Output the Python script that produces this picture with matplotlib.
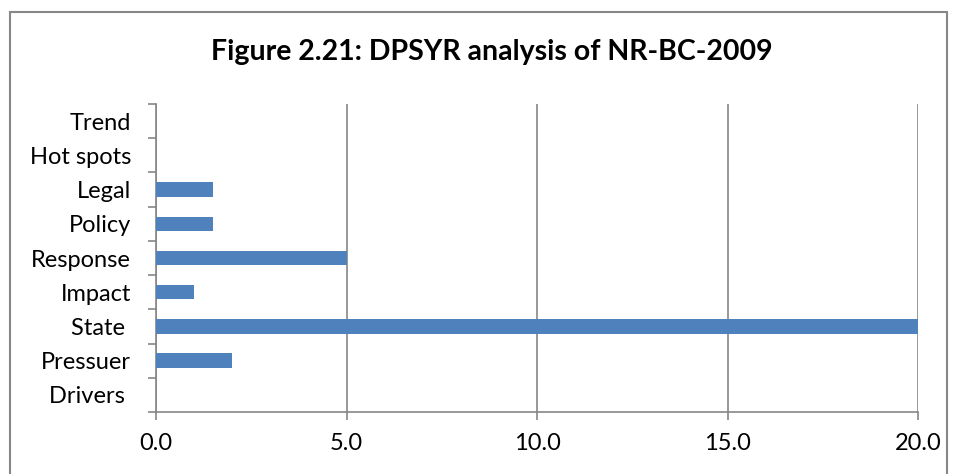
import matplotlib.pyplot as plt
from matplotlib.patches import Rectangle

categories = ['Drivers ', 'Pressuer', 'State ', 'Impact', 'Response',
              'Policy', 'Legal', 'Hot spots', 'Trend']
values = [0.0, 2.0, 20.0, 1.0, 5.0, 1.5, 1.5, 0.0, 0.0]
xticks = [0.0, 5.0, 10.0, 15.0, 20.0]

plt.rcParams['font.family'] = ['Lato', 'DejaVu Sans']

W, H = 957, 474
fig = plt.figure(figsize=(W / 100, H / 100), dpi=100)
fig.patch.set_facecolor('white')

# outer chart border (bottom edge runs off the image)
fig.patches.append(Rectangle((10 / W, -0.05), 937 / W, 1.05 - 12 / H,
                             transform=fig.transFigure, fill=False,
                             edgecolor='#878787', linewidth=1.5))

ax = fig.add_axes([156 / W, 1 - 412 / H, (918 - 156) / W, (412 - 104) / H])

pos = list(range(len(categories)))
ax.barh(pos, values, height=0.42, color='#4f81bd', zorder=3)

ax.set_xlim(0, 20)
ax.set_ylim(-0.5, len(categories) - 0.5)
ax.set_xticks(xticks)
ax.set_xticklabels([f'{v:.1f}' for v in xticks], fontsize=17)
ax.set_yticks(pos)
ax.set_yticklabels(categories, fontsize=17)
ax.set_yticks([p - 0.5 for p in pos] + [len(categories) - 0.5], minor=True)

ax.grid(True, axis='x', color='#868686', linewidth=1.2, zorder=0)
for s in ['top', 'right']:
    ax.spines[s].set_visible(False)
for s in ['left', 'bottom']:
    ax.spines[s].set_color('#868686')
    ax.spines[s].set_linewidth(1.2)

ax.tick_params(axis='y', which='major', length=0, pad=18)
ax.tick_params(axis='y', which='minor', length=6, color='#868686', width=1.2)
ax.tick_params(axis='x', length=6, color='#868686', width=1.2, pad=9)

fig.text(492 / W, 1 - 52 / H, 'Figure 2.21: DPSYR analysis of NR-BC-2009',
         ha='center', va='center', fontsize=20.5, fontweight='bold')

fig.savefig('out.png', dpi=100)
